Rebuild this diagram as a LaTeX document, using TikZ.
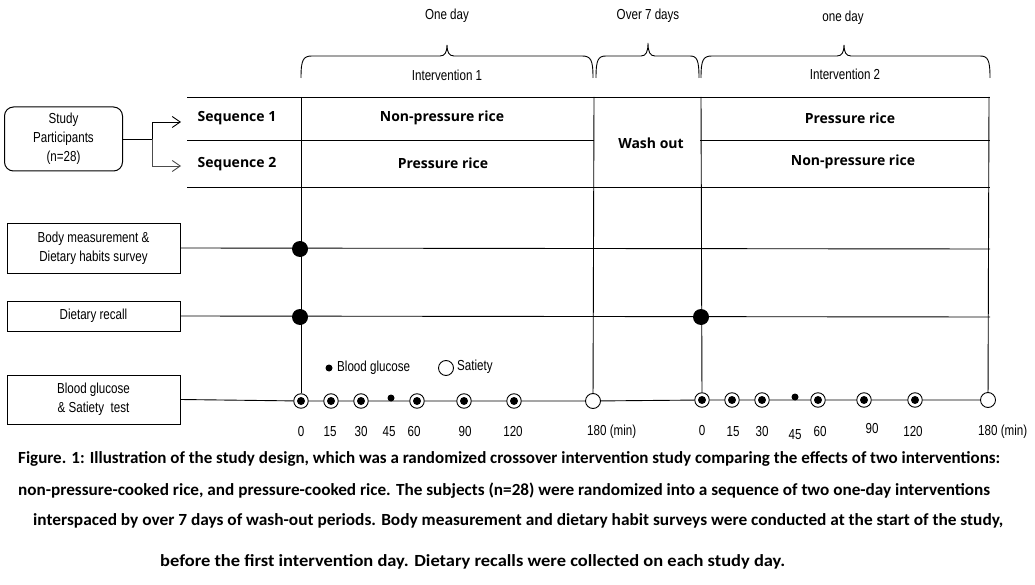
\documentclass[tikz,border=0pt]{standalone}
\usepackage{fontspec}
\usepackage{graphicx}
\setmainfont{Liberation Sans}
\newfontfamily\lbfont{Liberation Sans}[FakeStretch=0.8]
\IfFontExistsTF{Open Sans Bold}{\newfontfamily\bfont{Open Sans Bold}}{\newfontfamily\bfont{Liberation Sans Bold}}
\newfontfamily\capfont{Carlito}
\usetikzlibrary{arrows.meta}
\begin{document}
\begin{tikzpicture}[x=1pt,y=-1pt,
  lbl/.style={font=\lbfont\fontsize{14.5}{19}\selectfont, inner sep=0pt, align=center},
  tbl/.style={font=\bfont\fontsize{14}{16}\selectfont, inner sep=0pt},
  rowbox/.style={draw, line width=0.9pt, minimum width=173pt, inner sep=0pt, align=center, font=\lbfont\fontsize{14.5}{19}\selectfont},
  ln/.style={line width=0.9pt},
  bigdot/.style={circle, fill, minimum size=16pt, inner sep=0pt},
  both/.style={circle, draw, line width=0.9pt, fill=white, minimum size=14.5pt, inner sep=0pt,
    path picture={\fill[black] (path picture bounding box.center) circle (4pt);}},
  gl/.style={circle, fill, minimum size=7pt, inner sep=0pt},
  sat/.style={circle, draw, line width=0.9pt, fill=white, minimum size=15pt, inner sep=0pt},
  num/.style={font=\lbfont\fontsize{14.5}{16}\selectfont, inner sep=0pt},
  captext/.style={font=\capfont\bfseries\fontsize{17}{19}\selectfont, inner sep=0pt, anchor=west},
  arr/.style={ln, -{Straight Barb[length=8pt,width=11pt]}}
]
\useasboundingbox (0,0) rectangle (1035,585);

% ---------- braces ----------
\draw[ln] (301,78) .. controls (301,60) and (303,56) .. (312,56) -- (440,56)
  .. controls (445,56) and (447,52) .. (447,45) .. controls (447,52) and (449,56) .. (454,56)
  -- (582,56) .. controls (591,56) and (593,60) .. (593,78);
\draw[ln] (596,78) .. controls (596,60) and (598,56) .. (606,56) -- (641,56)
  .. controls (646,56) and (648,52) .. (648,43) .. controls (648,52) and (650,56) .. (655,56)
  -- (690,56) .. controls (697,56) and (699,60) .. (699,78);
\draw[ln] (701,78) .. controls (701,60) and (703,56) .. (712,56) -- (837,56)
  .. controls (842,56) and (844,52) .. (844,45) .. controls (844,52) and (846,56) .. (851,56)
  -- (980,56) .. controls (988,56) and (990,60) .. (990,78);

\node[lbl] (oneday1) at (447,16) {One day};
\node[lbl] (over7) at (648,16) {Over 7 days};
\node[lbl] (oneday2) at (843,18) {one day};
\node[lbl] (int1) at (447,75) {Intervention 1};
\node[lbl] (int2) at (845,74) {Intervention 2};

% ---------- participants ----------
\node[draw, line width=1pt, rounded corners=9pt, minimum width=118pt, minimum height=64pt, lbl]
  (sp) at (63.5,139) {Study\\Participants\\(n=28)};
\coordinate (br) at (152,139);
\coordinate (a1) at (181,122);
\coordinate (a2) at (181,166);
\draw[ln] (sp.east) -- (br);
\draw[arr] (br) |- (a1);
\draw[arr, draw=black!70] (br) |- (a2);

% ---------- table ----------
\coordinate (tl) at (187,97);   \coordinate (tr) at (990,97);
\coordinate (ml) at (187,140);  \coordinate (mw1) at (594,140);
\coordinate (mw2) at (700,140); \coordinate (mr) at (990,140);
\coordinate (bl) at (187,187);  \coordinate (brr) at (990,187);
\draw[ln] (tl) -- (tr);
\draw[ln] (ml) -- (mw1);
\draw[ln] (mw2) -- (mr);
\draw[ln] (bl) -- (brr);

\node[tbl] (s1) at (237,118) {Sequence 1};
\node[tbl] (s2) at (237,164) {Sequence 2};
\node[tbl] (np1) at (442,118) {Non-pressure rice};
\node[tbl] (p1) at (443,163) {Pressure rice};
\node[tbl] (wo) at (651,143) {Wash out};
\node[tbl] (p2) at (850,118) {Pressure rice};
\node[tbl] (np2) at (853,162) {Non-pressure rice};

% ---------- rows ----------
\node[rowbox, minimum height=50pt] (bm) at (93.5,248) {Body measurement \&\\Dietary habits survey};
\node[rowbox, minimum height=30pt] (dr) at (93.5,316) {Dietary recall};
\node[rowbox, minimum height=49pt] (bg) at (93.5,399.5) {Blood glucose\\\& Satiety\ \ test};

\coordinate (bmR) at (990,249);
\coordinate (drR) at (990,317);
\draw[ln] (bm.east) -- (bmR);
\draw[ln] (dr.east) -- (drR);

% ---------- timeline markers ----------
\node[both] (t0) at (301,401) {};
\node[both] (t15) at (331,401) {};
\node[both] (t30) at (361,401) {};
\node[gl] (t45) at (391,398) {};
\node[both] (t60) at (417,401) {};
\node[both] (t90) at (464,401) {};
\node[both] (t120) at (514,401) {};
\node[sat] (t180) at (593,401) {};
\node[both] (u0) at (702,400) {};
\node[both] (u15) at (732,400) {};
\node[both] (u30) at (762,400) {};
\node[gl] (u45) at (795,397) {};
\node[both] (u60) at (818,400) {};
\node[both] (u90) at (864,400) {};
\node[both] (u120) at (915,400) {};
\node[sat] (u180) at (988,400) {};

\draw[ln] (bg.east) -- (t0) -- (t15) -- (t30) -- (t60) -- (t90) -- (t120) -- (t180)
  -- (u0) -- (u15) -- (u30) -- (u60) -- (u90) -- (u120) -- (u180);

% verticals
\coordinate (v1) at (301,97);
\coordinate (v2) at (594,97);
\coordinate (v3) at (701,97);
\coordinate (v4) at (989,97);
\draw[ln] (v1) -- (t0);
\draw[ln] (v2) -- (t180);
\draw[ln] (v3) -- (u0);
\draw[ln] (v4) -- (u180);

% big dots
\node[bigdot] (d1) at (300,249) {};
\node[bigdot] (d2) at (300,317) {};
\node[bigdot] (d3) at (701,317) {};

% legend
\node[gl] (lg) at (329,368) {};
\node[num, anchor=west] (lgt) at (337,368) {Blood glucose};
\node[sat] (ls) at (446,368) {};
\node[num, anchor=west] (lst) at (457,367) {Satiety};

% tick labels
\node[num] (n0) at (301,432) {0};
\node[num] (n15) at (330,432) {15};
\node[num] (n30) at (361,432) {30};
\node[num] (n45) at (389,432) {45};
\node[num] (n60) at (414,432) {60};
\node[num] (n90) at (465,432) {90};
\node[num] (n120) at (513,432) {120};
\node[num, anchor=west] (n180) at (587,432) {180 (min)};
\node[num] (m0) at (702,431) {0};
\node[num] (m15) at (733,432) {15};
\node[num] (m30) at (762,432) {30};
\node[num] (m45) at (795,435) {45};
\node[num] (m60) at (820,432) {60};
\node[num] (m90) at (872,429) {90};
\node[num] (m120) at (913,432) {120};
\node[num, anchor=west] (m180) at (978,432) {180 (min)};

% caption
\node[captext] (c1) at (18,459) {\resizebox{982pt}{\height}{Figure. 1: Illustration of the study design, which was a randomized crossover intervention study comparing the effects of two interventions:}};
\node[captext] (c2) at (18,491) {\resizebox{972pt}{\height}{non-pressure-cooked rice, and pressure-cooked rice. The subjects (n=28) were randomized into a sequence of two one-day interventions}};
\node[captext] (c3) at (33,521) {\resizebox{970pt}{\height}{interspaced by over 7 days of wash-out periods. Body measurement and dietary habit surveys were conducted at the start of the study,}};
\node[captext] (c4) at (160,562) {\resizebox{625pt}{\height}{before the first intervention day. Dietary recalls were collected on each study day.}};
\end{tikzpicture}
\end{document}
